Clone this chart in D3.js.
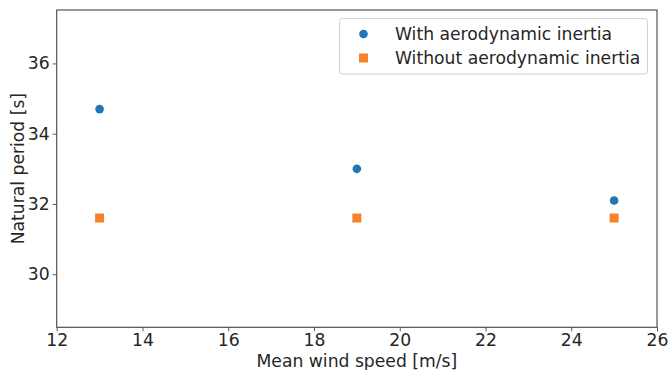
<!DOCTYPE html>
<html>
<head>
<meta charset="utf-8">
<script src="https://cdn.jsdelivr.net/npm/d3@7"></script>
<style>
  html, body { margin: 0; padding: 0; background: #fff; }
  svg { display: block; font-family: "DejaVu Sans", sans-serif; }
</style>
</head>
<body>
<svg id="chart" width="668" height="370"></svg>
<script>
// Natural period vs mean wind speed, with and without aerodynamic inertia
const windSpeeds = [13, 19, 25];
const periodWith = [34.7, 33.0, 32.1];
const periodWithout = [31.6, 31.6, 31.6];
const xTicks = [12, 14, 16, 18, 20, 22, 24, 26];
const yTicks = [30, 32, 34, 36];
const seriesNames = ["With aerodynamic inertia", "Without aerodynamic inertia"];

const W = 668, H = 370;
const m = { left: 56.7, right: 657, top: 10, bottom: 327.3 };
const svg = d3.select("#chart");
const fontSize = "17.2px";

const x = d3.scaleLinear().domain([12, 26]).range([m.left, m.right]);
const y = d3.scaleLinear().domain([28.49, 37.52]).range([m.bottom, m.top]);

const axisColor = "#444";
const textColor = "#262626";

// bottom axis
const gx = svg.append("g").attr("transform", `translate(0,${m.bottom})`)
  .call(d3.axisBottom(x).tickValues(xTicks).tickSize(4).tickPadding(2.5).tickFormat(d3.format("d")));
// left axis
const gy = svg.append("g").attr("transform", `translate(${m.left},0)`)
  .call(d3.axisLeft(y).tickValues(yTicks).tickSize(4).tickPadding(3).tickFormat(d3.format("d")));
[gx, gy].forEach(g => {
  g.select(".domain").remove();
  g.selectAll(".tick line").attr("stroke", axisColor).attr("stroke-width", 0.9);
  g.selectAll(".tick text").attr("fill", textColor).style("font-size", fontSize)
    .style("font-family", "DejaVu Sans, sans-serif");
});

// frame
svg.append("rect")
  .attr("x", m.left).attr("y", m.top)
  .attr("width", m.right - m.left).attr("height", m.bottom - m.top)
  .attr("fill", "none").attr("stroke", axisColor).attr("stroke-width", 1.1);

// axis titles
svg.append("text")
  .attr("x", (m.left + m.right) / 2).attr("y", 366.5)
  .attr("text-anchor", "middle").attr("fill", textColor)
  .style("font-size", fontSize).text("Mean wind speed [m/s]");
svg.append("text")
  .attr("transform", `translate(24,${(m.top + m.bottom) / 2}) rotate(-90)`)
  .attr("text-anchor", "middle").attr("fill", textColor)
  .style("font-size", fontSize).text("Natural period [s]");

const blue = "#1f77b4", orange = "#f8822c";

// series: with inertia (circles)
svg.append("g").selectAll("circle")
  .data(windSpeeds.map((w, i) => [w, periodWith[i]]))
  .join("circle")
  .attr("cx", d => x(d[0])).attr("cy", d => y(d[1]))
  .attr("r", 4.3).attr("fill", blue);

// series: without inertia (squares)
const s = 9;
svg.append("g").selectAll("rect")
  .data(windSpeeds.map((w, i) => [w, periodWithout[i]]))
  .join("rect")
  .attr("x", d => x(d[0]) - s / 2).attr("y", d => y(d[1]) - s / 2)
  .attr("width", s).attr("height", s).attr("fill", orange);

// legend
const lg = svg.append("g");
lg.append("rect")
  .attr("x", 339.5).attr("y", 18.5).attr("width", 308).attr("height", 55.5)
  .attr("rx", 3).attr("fill", "#fff").attr("fill-opacity", 0.8)
  .attr("stroke", "#d0d0d0").attr("stroke-width", 1);
const rowY = [34, 58];
lg.append("circle").attr("cx", 363.5).attr("cy", rowY[0]).attr("r", 4.3).attr("fill", blue);
lg.append("rect").attr("x", 363.5 - s / 2).attr("y", rowY[1] - s / 2)
  .attr("width", s).attr("height", s).attr("fill", orange);
seriesNames.forEach((name, i) => {
  lg.append("text").attr("x", 395).attr("y", rowY[i]).attr("dy", "0.35em")
    .attr("fill", textColor).style("font-size", fontSize).text(name);
});
</script>
</body>
</html>
